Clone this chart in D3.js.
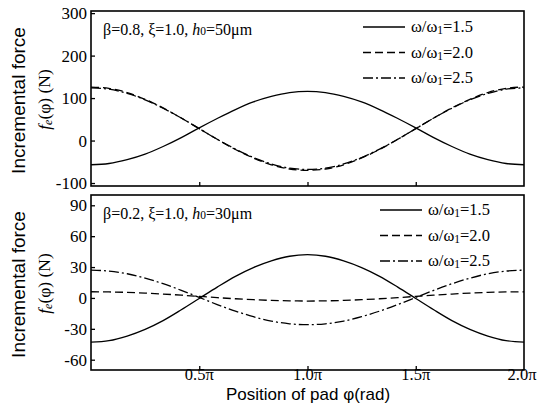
<!DOCTYPE html>
<html>
<head>
<meta charset="utf-8">
<script src="https://cdn.jsdelivr.net/npm/d3@7"></script>
<style>
  body { margin: 0; background: #fff; }
  svg { display: block; }
  .tick-label { font-family: "Liberation Serif", "Times New Roman", serif; font-size: 17px; fill: #000; }
  .title { font-family: "Liberation Sans", Arial, sans-serif; fill: #000; }
  .serif { font-family: "Liberation Serif", "Times New Roman", serif; fill: #000; }
</style>
</head>
<body>
<div id="chart"></div>
<script>
// position of pad, in units of pi
const phiPi = [0, 0.083, 0.167, 0.25, 0.333, 0.417, 0.5, 0.583, 0.667, 0.75, 0.833, 0.917, 1.0,
  1.083, 1.167, 1.25, 1.333, 1.417, 1.5, 1.583, 1.667, 1.75, 1.833, 1.917, 2.0];

// top panel: beta=0.8, h0=50um
const top15 = [-57, -54, -45, -32, -14, 7, 30, 52, 73, 91, 104, 113, 116,
  113, 104, 91, 73, 52, 30, 7, -14, -32, -45, -54, -57];
const top20 = [126, 123, 113, 97, 77, 53, 28, 3, -21, -41, -57, -67, -70,
  -67, -57, -41, -21, 3, 28, 53, 77, 97, 113, 123, 126];
const top25 = [124, 121, 111, 96, 76, 53, 28, 3, -20, -40, -55, -65, -68,
  -65, -55, -40, -20, 3, 28, 53, 76, 96, 111, 121, 124];

// bottom panel: beta=0.2, h0=30um
const bot15 = [-43, -41.5, -37, -30.5, -22, -11.5, -0.5, 10.5, 21, 29.5, 36, 40.5, 42,
  40.5, 36, 29.5, 21, 10.5, -0.5, -11.5, -22, -30.5, -37, -41.5, -43];
const bot20 = [6, 5.8, 5.4, 4.7, 3.8, 2.7, 1.5, 0.3, -0.8, -1.7, -2.4, -2.8, -3,
  -2.8, -2.4, -1.7, -0.8, 0.3, 1.5, 2.7, 3.8, 4.7, 5.4, 5.8, 6];
const bot25 = [27, 26.1, 23.5, 19.2, 13.8, 7.4, 0.5, -6.4, -12.8, -18.2, -22.5, -25.1, -26,
  -25.1, -22.5, -18.2, -12.8, -6.4, 0.5, 7.4, 13.8, 19.2, 23.5, 26.1, 27];

const legendLabels = ["1.5", "2.0", "2.5"];
const xTicks = [0.5, 1.0, 1.5, 2.0];
const topYTicks = [300, 200, 100, 0, -100];
const botYTicks = [90, 60, 30, 0, -30, -60];

const width = 541, height = 418;
const dashes = [null, "8,4", "10,3,2,3"];

const svg = d3.select("#chart").append("svg")
  .attr("width", width).attr("height", height);

const x = d3.scaleLinear().domain([0, 2]).range([91, 524]);

const panels = [
  { y: d3.scaleLinear().domain([-107, 305]).range([186, 11]), ticks: topYTicks,
    series: [top15, top20, top25], beta: "0.8", h: "50", legX: 363, legY: 27, showX: false },
  { y: d3.scaleLinear().domain([-70, 100]).range([370, 195]), ticks: botYTicks,
    series: [bot15, bot20, bot25], beta: "0.2", h: "30", legX: 380, legY: 210, showX: true }
];

panels.forEach(p => {
  const g = svg.append("g");
  const [y0, y1] = p.y.range();

  // curves
  p.series.forEach((s, i) => {
    const line = d3.line()
      .x((d, j) => x(phiPi[j]))
      .y(d => p.y(d))
      .curve(d3.curveMonotoneX);
    g.append("path")
      .datum(s)
      .attr("d", line)
      .attr("fill", "none")
      .attr("stroke", "#000")
      .attr("stroke-width", 1.3)
      .attr("stroke-dasharray", dashes[i]);
  });

  // frame
  g.append("rect")
    .attr("x", x.range()[0]).attr("y", y1)
    .attr("width", x.range()[1] - x.range()[0]).attr("height", y0 - y1)
    .attr("fill", "none").attr("stroke", "#000").attr("stroke-width", 1.6);

  // y axis, inward ticks
  const yAxis = d3.axisRight(p.y).tickValues(p.ticks).tickSize(4).tickFormat("");
  g.append("g").attr("transform", `translate(${x.range()[0]},0)`).call(yAxis)
    .call(a => a.select(".domain").remove())
    .selectAll("line").attr("stroke-width", 1.3);
  g.selectAll(".ylab").data(p.ticks).enter().append("text")
    .attr("class", "tick-label")
    .attr("x", 87).attr("y", d => p.y(d) + 6)
    .attr("text-anchor", "end")
    .text(d => d);

  // x ticks inward on bottom edge
  const xAxis = d3.axisTop(x).tickValues([0.5, 1.0, 1.5]).tickSize(4).tickFormat("");
  g.append("g").attr("transform", `translate(0,${y0})`).call(xAxis)
    .call(a => a.select(".domain").remove())
    .selectAll("line").attr("stroke-width", 1.3);

  if (p.showX) {
    g.selectAll(".xlab").data(xTicks).enter().append("text")
      .attr("class", "tick-label")
      .attr("font-size", 16.5)
      .style("font-size", "16.5px")
      .attr("x", d => x(d) - (d === 2.0 ? 2 : 0)).attr("y", 380)
      .attr("text-anchor", "middle")
      .text(d => d.toFixed(1) + "π");
  }

  // annotation
  const ann = g.append("text").attr("class", "serif")
    .attr("x", 103).attr("y", y1 + 24).attr("font-size", 16);
  ann.append("tspan").text(`β=${p.beta}, ξ=1.0, `);
  ann.append("tspan").attr("font-style", "italic").text("h");
  ann.append("tspan").attr("font-size", 11.5).text("0");
  ann.append("tspan").text(`=${p.h}μm`);

  // legend
  legendLabels.forEach((lab, i) => {
    const ly = p.legY + i * 25.5;
    g.append("line")
      .attr("x1", p.legX).attr("x2", p.legX + 42)
      .attr("y1", ly).attr("y2", ly)
      .attr("stroke", "#000").attr("stroke-width", 1.3)
      .attr("stroke-dasharray", dashes[i]);
    const t = g.append("text").attr("class", "serif")
      .attr("x", p.legX + 48).attr("y", ly + 5).attr("font-size", 16.5);
    t.append("tspan").text("ω/ω");
    t.append("tspan").attr("font-size", 11.5).attr("dy", 2).text("1");
    t.append("tspan").attr("dy", -2).text("=" + lab);
  });

  // y title
  const cy = (y0 + y1) / 2;
  g.append("text").attr("class", "title")
    .attr("transform", `translate(25,${cy + 2}) rotate(-90)`)
    .attr("text-anchor", "middle").attr("font-size", 19)
    .text("Incremental force");
  const t2 = g.append("text").attr("class", "serif")
    .attr("transform", `translate(50,${cy + 1}) rotate(-90)`)
    .attr("text-anchor", "middle").attr("font-size", 17.5);
  t2.append("tspan").attr("font-style", "italic").text("f");
  t2.append("tspan").attr("font-style", "italic").attr("font-size", 12).attr("dy", 2).text("e");
  t2.append("tspan").attr("dy", -2).text("(φ) (N)");
});

svg.append("text").attr("class", "title")
  .attr("x", 308).attr("y", 400)
  .attr("text-anchor", "middle").attr("font-size", 17)
  .text("Position of pad  φ(rad)");
</script>
</body>
</html>
